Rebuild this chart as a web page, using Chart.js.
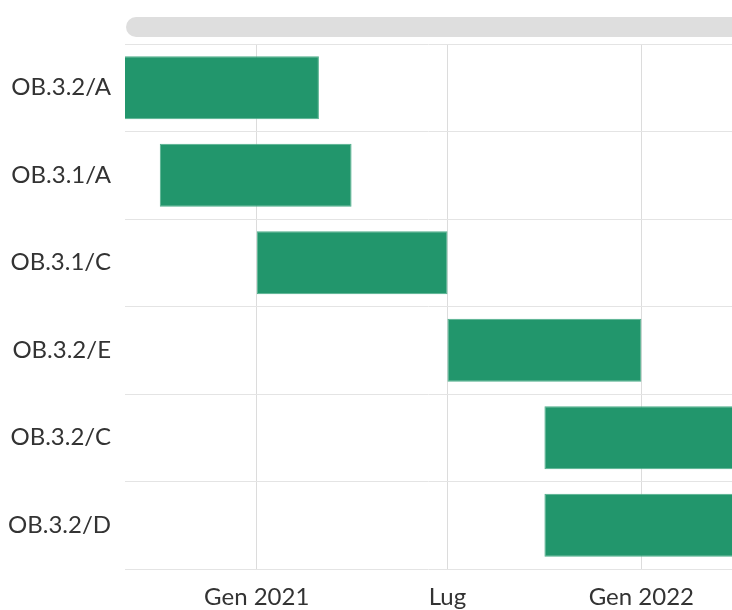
<!DOCTYPE html>
<html>
<head>
<meta charset="utf-8">
<script src="https://cdn.jsdelivr.net/npm/chart.js@4/dist/chart.umd.min.js"></script>
<style>
    html, body { margin: 0; padding: 0; background: #fff; overflow: hidden; }
    #wrap { width: 732px; height: 610px; position: relative; }
</style>
</head>
<body>
<div id="wrap"><canvas id="gantt"></canvas></div>
<script>
// Cronoprogramma obiettivi
const categories = ['OB.3.2/A', 'OB.3.1/A', 'OB.3.1/C', 'OB.3.2/E', 'OB.3.2/C', 'OB.3.2/D'];
const startDates = ['2020-07-01', '2020-10-01', '2021-01-01', '2021-07-01', '2021-10-01', '2021-10-01'];
const endDates = ['2021-03-01', '2021-04-01', '2021-07-01', '2022-01-01', '2022-07-01', '2022-07-01'];

const tickDates = ['2021-01-01', '2021-07-01', '2022-01-01'];
const tickLabels = ['Gen 2021', 'Lug', 'Gen 2022'];

const viewStart = '2020-08-29';
const viewEnd = '2022-03-28';

const toTime = d => Date.parse(d);

const barData = categories.map((c, i) => [toTime(startDates[i]), toTime(endDates[i])]);
const tickValues = tickDates.map(toTime);

// barra grigia in alto (cursore di scorrimento)
const scrollBarPlugin = {
    id: 'scrollBar',
    beforeDraw: function(chart) {
        const ctx = chart.ctx;
        const area = chart.chartArea;
        const x = area.left + 1;
        const y = 17;
        const w = chart.width - x + 20;
        const h = 20;
        ctx.save();
        ctx.fillStyle = '#dedede';
        ctx.beginPath();
        ctx.roundRect(x, y, w, h, 10);
        ctx.fill();
        ctx.restore();
    }
};

const labelFont = { family: 'Lato', size: 24 };

const ctx = document.getElementById('gantt').getContext('2d');
new Chart(ctx, {
    type: 'bar',
    data: {
        labels: categories,
        datasets: [{
            data: barData,
            backgroundColor: '#22966c',
            borderColor: '#4fae8b',
            borderWidth: 1,
            borderSkipped: false,
            clip: 0
        }]
    },
    options: {
        indexAxis: 'y',
        responsive: true,
        maintainAspectRatio: false,
        animation: false,
        layout: {
            padding: { top: 44, right: 0, bottom: 0, left: 0 }
        },
        scales: {
            x: {
                type: 'linear',
                min: toTime(viewStart),
                max: toTime(viewEnd),
                afterBuildTicks: function(scale) {
                    scale.ticks = tickValues.map(v => ({ value: v }));
                },
                afterFit: function(scale) {
                    scale.height = 41;
                },
                grid: {
                    color: '#dcdcdc',
                    drawTicks: false
                },
                border: { display: false },
                ticks: {
                    padding: 14,
                    maxRotation: 0,
                    autoSkip: false,
                    color: '#333',
                    font: labelFont,
                    callback: function(value) {
                        const i = tickValues.indexOf(value);
                        return i >= 0 ? tickLabels[i] : '';
                    }
                }
            },
            y: {
                afterFit: function(scale) {
                    scale.width = 125;
                },
                grid: {
                    color: '#e4e4e4',
                    drawTicks: false
                },
                border: { display: false },
                ticks: {
                    padding: 14,
                    color: '#333',
                    font: labelFont
                }
            }
        },
        plugins: {
            legend: { display: false },
            tooltip: { enabled: false }
        }
    },
    plugins: [scrollBarPlugin]
});
</script>
</body>
</html>
